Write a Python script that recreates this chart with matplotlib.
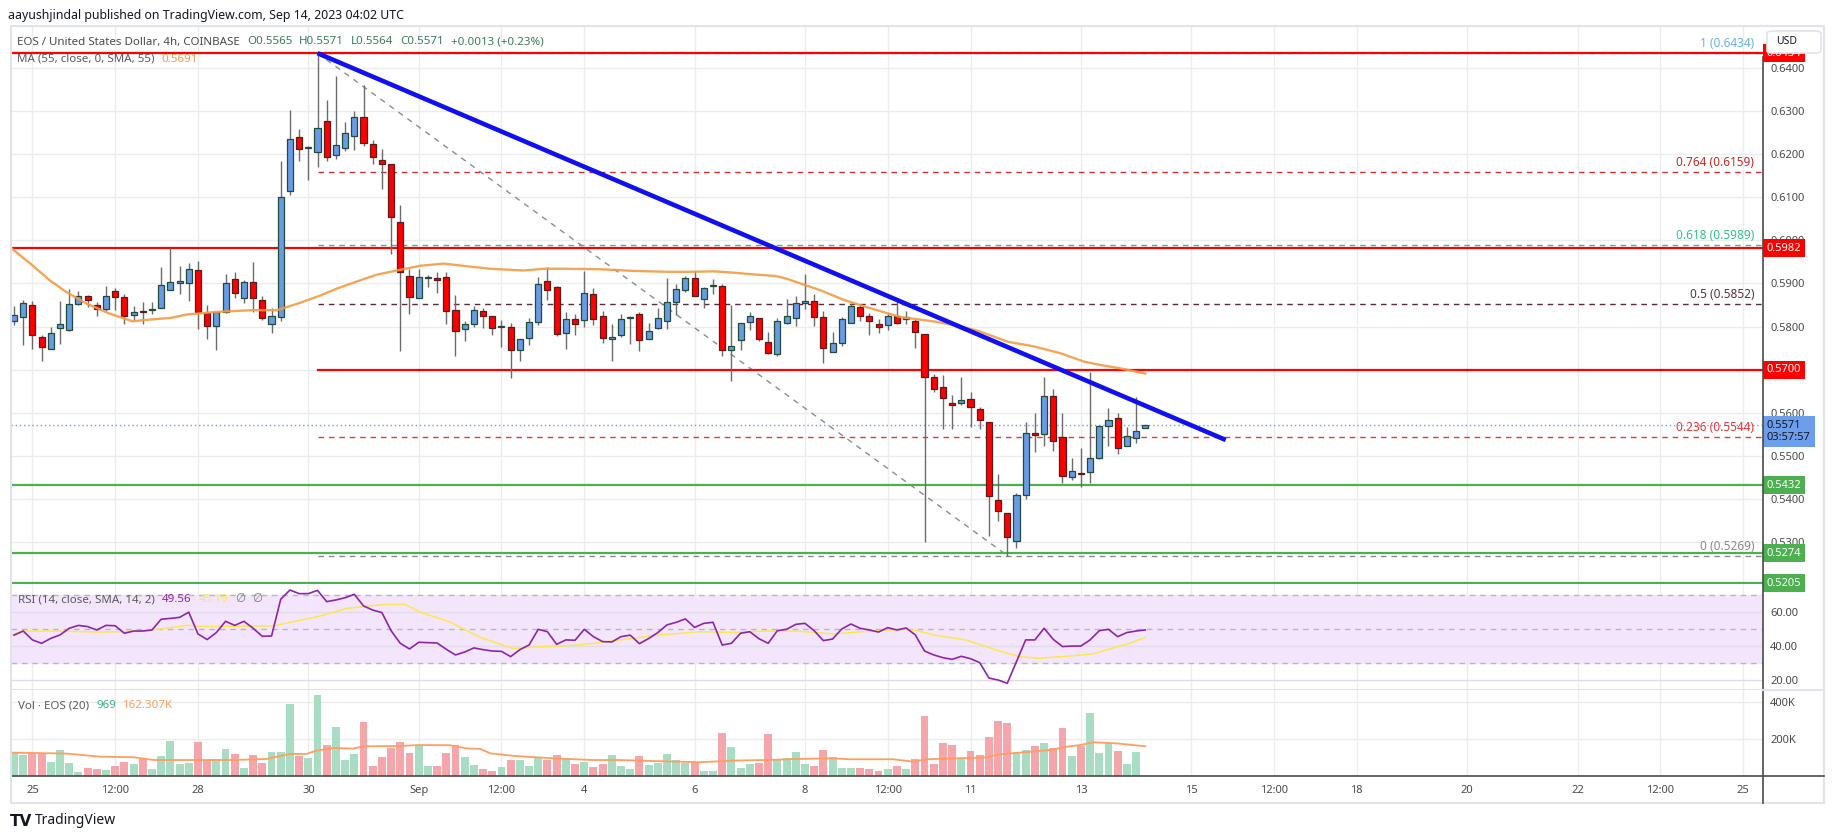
import numpy as np
import pandas as pd
import matplotlib
matplotlib.use("Agg")
import matplotlib.pyplot as plt
import matplotlib.transforms as mtransforms
from matplotlib.patches import Rectangle, FancyBboxPatch
from matplotlib.lines import Line2D

plt.rcParams['font.family'] = ['Noto Sans', 'DejaVu Sans']

W, H = 1835, 839

# ---- data (EOS/USD 4h, Coinbase) ----
t0 = pd.Timestamp("2023-08-24 16:00")
bar = pd.Timedelta(hours=4)

opens = [0.5813, 0.5822, 0.5850, 0.5776, 0.5748, 0.5797, 0.5792, 0.5852, 0.5870, 0.5850,
         0.5841, 0.5883, 0.5869, 0.5827, 0.5835, 0.5838, 0.5843, 0.5885, 0.5902, 0.5901,
         0.5931, 0.5832, 0.5801, 0.5834, 0.5910, 0.5866, 0.5903, 0.5862, 0.5806, 0.5822,
         0.6114, 0.6240, 0.6214, 0.6205, 0.6277, 0.6197, 0.6214, 0.6242, 0.6286, 0.6223,
         0.6186, 0.6177, 0.6042, 0.5917, 0.5866, 0.5912, 0.5913, 0.5915, 0.5839, 0.5794,
         0.5806, 0.5836, 0.5825, 0.5798, 0.5799, 0.5746, 0.5774, 0.5810, 0.5906, 0.5892,
         0.5785, 0.5818, 0.5815, 0.5876, 0.5825, 0.5771, 0.5781, 0.5820, 0.5829, 0.5771,
         0.5797, 0.5813, 0.5857, 0.5885, 0.5913, 0.5864, 0.5893, 0.5894, 0.5745, 0.5769,
         0.5811, 0.5820, 0.5764, 0.5736, 0.5808, 0.5820, 0.5855, 0.5859, 0.5823, 0.5742,
         0.5761, 0.5809, 0.5845, 0.5825, 0.5806, 0.5803, 0.5825, 0.5817, 0.5812, 0.5782,
         0.5683, 0.5659, 0.5622, 0.5622, 0.5631, 0.5608, 0.5578, 0.5397, 0.5367, 0.5302,
         0.5409, 0.5553, 0.5550, 0.5638, 0.5543, 0.5451, 0.5459, 0.5462, 0.5495, 0.5569,
         0.5587, 0.5522, 0.5541, 0.5565]
highs = [0.5848, 0.5862, 0.5860, 0.5781, 0.5800, 0.5860, 0.5886, 0.5883, 0.5874, 0.5857,
         0.5895, 0.5889, 0.5876, 0.5848, 0.5858, 0.5858, 0.5937, 0.5982, 0.5940, 0.5947,
         0.5953, 0.5849, 0.5834, 0.5923, 0.5926, 0.5909, 0.5949, 0.5872, 0.5844, 0.6183,
         0.6302, 0.6257, 0.6219, 0.6434, 0.6326, 0.6381, 0.6274, 0.6299, 0.6361, 0.6232,
         0.6212, 0.6177, 0.6081, 0.5934, 0.5934, 0.5919, 0.5927, 0.5927, 0.5874, 0.5813,
         0.5848, 0.5844, 0.5825, 0.5816, 0.5808, 0.5771, 0.5821, 0.5915, 0.5939, 0.5894,
         0.5834, 0.5828, 0.5930, 0.5889, 0.5837, 0.5806, 0.5828, 0.5824, 0.5834, 0.5808,
         0.5842, 0.5913, 0.5899, 0.5917, 0.5929, 0.5892, 0.5911, 0.5899, 0.5850, 0.5808,
         0.5834, 0.5820, 0.5787, 0.5820, 0.5865, 0.5871, 0.5923, 0.5876, 0.5835, 0.5787,
         0.5823, 0.5854, 0.5853, 0.5831, 0.5818, 0.5831, 0.5860, 0.5835, 0.5817, 0.5782,
         0.5690, 0.5688, 0.5641, 0.5683, 0.5648, 0.5613, 0.5578, 0.5458, 0.5367, 0.5415,
         0.5578, 0.5599, 0.5683, 0.5655, 0.5599, 0.5495, 0.5519, 0.5694, 0.5571, 0.5611,
         0.5599, 0.5568, 0.5636, 0.5571]
lows = [0.5803, 0.5757, 0.5747, 0.5719, 0.5748, 0.5759, 0.5789, 0.5849, 0.5845, 0.5824,
        0.5837, 0.5839, 0.5805, 0.5814, 0.5805, 0.5828, 0.5843, 0.5885, 0.5875, 0.5859,
        0.5794, 0.5770, 0.5745, 0.5831, 0.5866, 0.5854, 0.5834, 0.5815, 0.5784, 0.5813,
        0.6104, 0.6183, 0.6139, 0.6170, 0.6185, 0.6188, 0.6206, 0.6209, 0.6218, 0.6178,
        0.6118, 0.5968, 0.5743, 0.5828, 0.5866, 0.5892, 0.5878, 0.5807, 0.5731, 0.5766,
        0.5798, 0.5797, 0.5780, 0.5752, 0.5680, 0.5719, 0.5757, 0.5803, 0.5861, 0.5778,
        0.5747, 0.5780, 0.5798, 0.5803, 0.5761, 0.5719, 0.5776, 0.5759, 0.5743, 0.5771,
        0.5794, 0.5794, 0.5827, 0.5880, 0.5871, 0.5843, 0.5876, 0.5731, 0.5673, 0.5745,
        0.5791, 0.5766, 0.5736, 0.5731, 0.5805, 0.5801, 0.5841, 0.5801, 0.5715, 0.5742,
        0.5754, 0.5808, 0.5812, 0.5781, 0.5786, 0.5791, 0.5806, 0.5806, 0.5750, 0.5301,
        0.5649, 0.5562, 0.5562, 0.5618, 0.5568, 0.5563, 0.5315, 0.5348, 0.5269, 0.5286,
        0.5400, 0.5508, 0.5522, 0.5512, 0.5437, 0.5444, 0.5429, 0.5437, 0.5493, 0.5522,
        0.5505, 0.5522, 0.5529, 0.5564]
closes = [0.5826, 0.5855, 0.5781, 0.5753, 0.5785, 0.5806, 0.5852, 0.5871, 0.5862, 0.5841,
          0.5871, 0.5869, 0.5825, 0.5834, 0.5834, 0.5841, 0.5896, 0.5903, 0.5903, 0.5934,
          0.5834, 0.5801, 0.5834, 0.5901, 0.5878, 0.5903, 0.5866, 0.5820, 0.5825, 0.6100,
          0.6236, 0.6212, 0.6216, 0.6260, 0.6193, 0.6221, 0.6249, 0.6286, 0.6226, 0.6193,
          0.6176, 0.6053, 0.5927, 0.5868, 0.5915, 0.5914, 0.5907, 0.5836, 0.5789, 0.5806,
          0.5839, 0.5825, 0.5797, 0.5799, 0.5746, 0.5771, 0.5811, 0.5899, 0.5885, 0.5782,
          0.5818, 0.5806, 0.5878, 0.5818, 0.5774, 0.5776, 0.5818, 0.5822, 0.5769, 0.5790,
          0.5820, 0.5857, 0.5887, 0.5913, 0.5871, 0.5889, 0.5895, 0.5745, 0.5755, 0.5808,
          0.5825, 0.5771, 0.5738, 0.5813, 0.5825, 0.5855, 0.5859, 0.5822, 0.5750, 0.5761,
          0.5817, 0.5848, 0.5825, 0.5812, 0.5798, 0.5825, 0.5809, 0.5822, 0.5787, 0.5683,
          0.5655, 0.5634, 0.5618, 0.5629, 0.5613, 0.5583, 0.5406, 0.5372, 0.5313, 0.5409,
          0.5553, 0.5548, 0.5638, 0.5534, 0.5453, 0.5465, 0.5458, 0.5495, 0.5569, 0.5583,
          0.5518, 0.5546, 0.5558, 0.5571]
volumes_k = [131, 115, 126, 126, 79, 142, 74, 23, 45, 40,
             34, 56, 77, 67, 99, 40, 110, 191, 67, 72,
             186, 88, 94, 148, 121, 45, 115, 74, 131, 131,
             391, 110, 99, 440, 169, 267, 88, 121, 294, 56,
             105, 153, 186, 126, 169, 57, 57, 126, 169, 104,
             61, 40, 29, 50, 88, 88, 57, 104, 88, 115,
             95, 66, 77, 50, 66, 115, 57, 40, 110, 60,
             70, 120, 90, 70, 80, 29, 29, 234, 159, 45,
             67, 72, 229, 94, 99, 132, 67, 56, 142, 105,
             45, 45, 45, 40, 29, 40, 56, 40, 94, 326,
             67, 180, 169, 94, 137, 115, 213, 299, 288, 132,
             142, 164, 180, 153, 261, 110, 164, 342, 126, 180,
             137, 67, 132, 0.969]
rsi = [46.5, 48.9, 43.7, 41.7, 44.6, 46.6, 50.5, 52.2, 51.5, 49.5,
       52.2, 52.0, 47.6, 48.9, 48.9, 49.5, 55.8, 56.3, 56.9, 59.9,
       47.2, 43.9, 48.0, 54.6, 52.2, 54.6, 50.5, 45.8, 46.0, 67.5,
       72.9, 70.8, 70.8, 72.7, 66.1, 67.1, 68.4, 70.4, 63.6, 61.2,
       59.7, 49.1, 41.7, 38.4, 42.3, 42.1, 41.9, 38.2, 34.9, 36.6,
       39.0, 38.0, 37.2, 37.0, 33.9, 38.0, 40.7, 49.9, 48.5, 41.1,
       43.7, 43.5, 49.9, 45.6, 42.7, 42.5, 45.6, 46.5, 41.5, 44.5,
       48.0, 52.5, 54.0, 56.0, 51.0, 53.4, 54.0, 40.7, 41.7, 47.6,
       48.5, 44.4, 41.7, 49.1, 49.9, 52.8, 53.4, 49.1, 43.3, 44.2,
       50.1, 53.0, 50.5, 49.5, 48.3, 50.9, 49.5, 50.7, 46.6, 37.2,
       34.9, 33.3, 32.3, 34.1, 32.7, 30.4, 21.4, 20.2, 18.3, 31.0,
       43.7, 43.7, 50.5, 44.0, 39.8, 40.1, 40.1, 43.7, 49.1, 49.9,
       45.6, 48.0, 48.9, 49.56]

# MA(55) (bar position, price)
ma_x = [-0.36, 2.0, 3.9, 5.7, 7.9, 10.4, 12.9, 14.1, 17.0, 18.8, 22.0, 26.0, 28.6, 31.1,
        33.3, 35.1, 37.6, 39.4, 41.6, 44.2, 46.7, 49.2, 51.8, 55.4, 57.6, 60.1, 63.7, 67.4,
        71.0, 73.5, 76.1, 78.2, 80.4, 82.9, 84.0, 85.5, 87.7, 90.2, 92.7, 96.4, 100.0, 102.5,
        104.7, 106.5, 108.0, 110.9, 113.8, 116.3, 118.1, 120.3, 123.0]
ma_y = [0.5983, 0.5942, 0.5907, 0.5880, 0.5853, 0.5830, 0.5812, 0.5815, 0.5820, 0.5828,
        0.5834, 0.5838, 0.5838, 0.5855, 0.5872, 0.5888, 0.5907, 0.5920, 0.5930, 0.5941,
        0.5946, 0.5940, 0.5934, 0.5930, 0.5934, 0.5934, 0.5933, 0.5929, 0.5927, 0.5927,
        0.5928, 0.5925, 0.5921, 0.5917, 0.5911, 0.5900, 0.5884, 0.5862, 0.5845, 0.5822,
        0.5812, 0.5802, 0.5791, 0.5777, 0.5765, 0.5754, 0.5738, 0.5719, 0.5711, 0.5703,
        0.5691]
rsi_ma_x = [-0.36, 1, 4, 9.4, 13, 15.2, 18.8, 21, 28, 28.6, 33, 36.2, 40.3, 42.5, 44.2,
            47.4, 50.7, 53.5, 54.4, 56.5, 60.8, 63, 65.9, 70, 74.6, 78.2, 81.8, 85.5, 89.1,
            92.7, 96.4, 98.2, 100.0, 103.5, 106.8, 109.3, 111.5, 115.2, 117.3, 119.4,
            121.3, 123]
rsi_ma_y = [46.6, 48.9, 48.9, 48.3, 48.7, 49.7, 52.2, 51.5, 51.9, 52.4, 57.3, 62.2, 64.5,
            64.5, 59.9, 54.2, 45.2, 40.0, 38.5, 39.5, 40.5, 41.7, 43.7, 46.5, 48.5, 48.1,
            48.9, 48.7, 47.2, 48.7, 49.9, 49.1, 46.6, 43.7, 37.8, 33.9, 32.9, 34.5, 35.5,
            38.8, 41.7, 45.19]
vol_ma_x = [-0.36, 5.7, 9.4, 13, 15.2, 18.8, 23.9, 27.5, 28.6, 30, 31.8, 32.9, 34.7, 36.9,
            38, 42, 44, 47.4, 49.2, 50.7, 51.8, 54.4, 58.7, 62.9, 65.7, 70, 74.6, 78.2,
            81.8, 85.5, 89.1, 90.9, 95.6, 97.8, 99.2, 103.5, 105.4, 107.2, 109.4, 112.6,
            114.5, 115.9, 117.4, 119.9, 123]
vol_ma_k = [128, 123, 106, 103, 88, 88, 88, 94, 106, 121, 121, 139, 153, 150, 162, 164,
            169, 168, 151, 148, 124, 110, 97, 88, 88, 82, 76, 85, 88, 94, 97, 92, 92, 79,
            92, 99, 101, 119, 128, 142, 160, 169, 184, 178, 162.307]

fib_ratios = [1, 0.764, 0.618, 0.5, 0.236, 0]
fib_prices = [0.6434, 0.6159, 0.5989, 0.5852, 0.5544, 0.5269]
swing_high = ("2023-08-30 04:00", 0.6434)
swing_low = ("2023-09-11 16:00", 0.5269)
trend_end = ("2023-09-15 15:00", 0.5537)
resist_full = [0.6434, 0.5982]
resist_from_high = [0.5700]
supports = [0.5432, 0.5274, 0.5205]
tag_red = [0.6434, 0.5982, 0.5700]
last_price = 0.5571
countdown = "03:57:57"

xtick_times = ["2023-08-25", "2023-08-26 12:00", "2023-08-28", "2023-08-30", "2023-09-01",
               "2023-09-02 12:00", "2023-09-04", "2023-09-06", "2023-09-08", "2023-09-09 12:00",
               "2023-09-11", "2023-09-13", "2023-09-15", "2023-09-16 12:00", "2023-09-18",
               "2023-09-20", "2023-09-22", "2023-09-23 12:00", "2023-09-25"]
xtick_labels = ["25", "12:00", "28", "30", "Sep", "12:00", "4", "6", "8", "12:00", "11", "13",
                "15", "12:00", "18", "20", "22", "12:00", "25"]


def pos(ts):
    return (pd.Timestamp(ts) - t0) / bar


# ---- figure ----
fig = plt.figure(figsize=(W / 100, H / 100), dpi=100)
L, R = 10.7, 1763.3
def box(top, bot):
    return [L / W, 1 - bot / H, (R - L) / W, (bot - top) / H]

ax = fig.add_axes(box(26, 584))
ax_rsi = fig.add_axes(box(584, 690.3), sharex=ax)
ax_vol = fig.add_axes(box(690.3, 776.3), sharex=ax)

GRID = '#ececec'
TXT = '#4a4a4a'
xs = np.arange(len(opens))
o, h, l, c = map(np.array, (opens, highs, lows, closes))
up = c >= o
xt = [pos(t) for t in xtick_times]

for a in (ax, ax_rsi, ax_vol):
    a.set_facecolor('white')
    a.yaxis.tick_right()
    a.tick_params(axis='y', length=0, pad=5, labelsize=8, labelcolor=TXT)
    a.tick_params(axis='x', length=0)
    for s in ('left', 'top', 'right'):
        a.spines[s].set_visible(False)
    a.spines['bottom'].set_color('#e0e3eb')
    a.spines['bottom'].set_linewidth(1.5)
    a.set_xticks(xt)
    for x in xt:
        a.axvline(x, color=GRID, lw=1, zorder=0)
ax.tick_params(axis='x', labelbottom=False)
ax_rsi.tick_params(axis='x', labelbottom=False)
ax_vol.set_xticklabels(xtick_labels)
ax_vol.tick_params(axis='x', pad=6, labelsize=8, labelcolor=TXT)
ax_vol.spines['bottom'].set_color('#4a4a4a')
ax_vol.spines['bottom'].set_linewidth(1.2)
ax.set_xlim(-0.36, 190.2)

# main pane
ax.set_ylim(0.5203, 0.6497)
pt = np.round(np.arange(0.53, 0.6401, 0.01), 2)
ax.set_yticks(pt)
ax.set_yticklabels([f"{v:.4f}" for v in pt])
for v in pt:
    ax.axhline(v, color=GRID, lw=1, zorder=0)

xh, xl = pos(swing_high[0]), pos(swing_low[0])
xend = 190.2
fib_cols = ['#64b5f6', '#d32f2f', '#2bc48a', '#5d2a3a', '#e53935', '#8a8a8a']
lbl_cols = ['#6ab0e0', '#c62828', '#34c08a', '#5d3040', '#e53935', '#8a8a8a']
for r, p, fc, lc in zip(fib_ratios, fib_prices, fib_cols, lbl_cols):
    ax.plot([xh, xend], [p, p], color=fc, lw=1, dashes=(4, 3.5), zorder=2)
    ax.annotate(f"{r:g} ({p:.4f})", (189.2, p), xytext=(0, 2), textcoords='offset points',
                ha='right', va='bottom', color=lc, fontsize=8.5, zorder=6)

ax.plot([xh, xl], [swing_high[1], swing_low[1]], color='#8c8c8c', lw=1, dashes=(4, 4), zorder=2)

for p in resist_full:
    ax.axhline(p, color='#ff0000', lw=1.6, zorder=3)
for p in resist_from_high:
    ax.plot([xh, xend], [p, p], color='#ff0000', lw=1.6, zorder=3)
for p in supports:
    ax.axhline(p, color='#4caf50', lw=1.6, zorder=3)

ax.axhline(last_price, color='#6d9eeb', lw=1, ls=(0, (1, 2)), zorder=2)

# candles
ax.vlines(xs, l, h, color='#6b6b6b', lw=1, zorder=4)
body_b = np.minimum(o, c)
body_h = np.maximum(np.abs(c - o), 0.00025)
ax.bar(xs[up], body_h[up], bottom=body_b[up], width=0.66, color='#6a9ae6',
       edgecolor='#1f4d35', linewidth=0.9, zorder=5)
ax.bar(xs[~up], body_h[~up], bottom=body_b[~up], width=0.66, color='#ff0000',
       edgecolor='#5c1a1a', linewidth=0.9, zorder=5)

ax.plot(ma_x, ma_y, color='#f39c45', lw=1.7, alpha=0.9, zorder=6)
ax.plot([xh, pos(trend_end[0])], [swing_high[1], trend_end[1]], color='#1010f0', lw=3.3,
        solid_capstyle='butt', zorder=7)

# price tags on the scale
tagtr = mtransforms.blended_transform_factory(ax.transAxes, ax.transData) + \
    mtransforms.ScaledTranslation(3.5 / 100, 0, fig.dpi_scale_trans)
for p in tag_red:
    ax.text(1, p, f"{p:.4f}", transform=tagtr, ha='left', va='center', color='white',
            fontsize=8, fontweight='bold', clip_on=False, zorder=10,
            bbox=dict(boxstyle='square,pad=0.32', fc='#ff0000', ec='none'))
for p in supports:
    ax.text(1, p, f"{p:.4f}", transform=tagtr, ha='left', va='center', color='white',
            fontsize=8, fontweight='bold', clip_on=False, zorder=10,
            bbox=dict(boxstyle='square,pad=0.32', fc='#4caf50', ec='none'))
lasttr = tagtr + mtransforms.ScaledTranslation(0, -6 / 100, fig.dpi_scale_trans)
ax.text(1, last_price, f"{last_price:.4f}\n{countdown}", transform=lasttr, ha='left',
        va='center', color='#131722', fontsize=8, linespacing=1.15, clip_on=False, zorder=10,
        bbox=dict(boxstyle='square,pad=0.35', fc='#6d9eeb', ec='none'))

# RSI pane
ax_rsi.set_ylim(14.19, 76.44)
ax_rsi.axhspan(30, 70, color='#f3e6fc', zorder=0)
for v in (20, 40, 60):
    ax_rsi.axhline(v, color='#e2dbea', lw=1, zorder=0.5)
for v in (30, 50, 70):
    ax_rsi.axhline(v, color='#b9b5c3', lw=1, dashes=(4, 3.5), zorder=1)
ax_rsi.set_yticks([20, 40, 60])
ax_rsi.set_yticklabels(["20.00", "40.00", "60.00"])
ax_rsi.plot(rsi_ma_x, rsi_ma_y, color='#fde74c', lw=1.1, zorder=3)
ax_rsi.plot(xs, rsi, color='#8e24aa', lw=1.2, zorder=4)

# Volume pane
ax_vol.set_ylim(0, 464.9)
for v in (200, 400):
    ax_vol.axhline(v, color=GRID, lw=1, zorder=0)
ax_vol.set_yticks([200, 400])
ax_vol.set_yticklabels(["200K", "400K"])
vk = np.array(volumes_k)
ax_vol.bar(xs[up], vk[up], width=0.86, color='#a8dcc3', zorder=2)
ax_vol.bar(xs[~up], vk[~up], width=0.86, color='#f5a6ab', zorder=2)
ax_vol.plot(vol_ma_x, vol_ma_k, color='#ff9e5e', lw=1.3, zorder=3)

# frame and scale lines
fig.patches.append(Rectangle((L / W, 1 - 803 / H), (1824 - L) / W, (803 - 26) / H,
                             transform=fig.transFigure, fill=False, ec='#e0e3eb', lw=1.5,
                             zorder=0.5))
fig.lines.append(Line2D([R / W, R / W], [1 - 57 / H, 1 - 803 / H], transform=fig.transFigure,
                        color='#4a4a4a', lw=1.2))
fig.lines.append(Line2D([R / W, 1824 / W], [1 - 776.3 / H, 1 - 776.3 / H],
                        transform=fig.transFigure, color='#4a4a4a', lw=1.2))
fig.lines.append(Line2D([R / W, 1824 / W], [1 - 690.3 / H, 1 - 690.3 / H],
                        transform=fig.transFigure, color='#e0e3eb', lw=1.5))
fig.patches.append(FancyBboxPatch((1767 / W, 1 - 53 / H), 54 / W, 22 / H,
                                  boxstyle='round,pad=0,rounding_size=0.003',
                                  transform=fig.transFigure, fc='white', ec='#e0e3eb', lw=1.2,
                                  zorder=5))
fig.text(1776 / W, 1 - 42 / H, "USD", fontsize=7.5, color='#131722', va='center', zorder=6)

# texts
renderer = fig.canvas.get_renderer()
def chain(x_px, y_px, parts, size=8.3, gap=7):
    for txt, col in parts:
        t = fig.text(x_px / W, 1 - y_px / H, txt, color=col, fontsize=size, va='center',
                     ha='left', zorder=8)
        x_px += t.get_window_extent(renderer=renderer).width + gap

fig.text(8 / W, 1 - 15 / H, "aayushjindal published on TradingView.com, Sep 14, 2023 04:02 UTC",
         fontsize=8.85, color='#131722', va='center')
g = '#3d7a5c'
chg = closes[-1] - closes[-2]
chain(17, 42, [("EOS / United States Dollar, 4h, COINBASE", '#4a4a4a'),
               (f"O{opens[-1]:.4f}", g), (f"H{highs[-1]:.4f}", g), (f"L{lows[-1]:.4f}", g),
               (f"C{closes[-1]:.4f}", g), (f"+{chg:.4f} (+{chg / closes[-2] * 100:.2f}%)", g)])
chain(17, 59, [("MA (55, close, 0, SMA, 55)", '#5a5a5a'), (f"{ma_y[-1]:.4f}", '#f39c45')])
chain(18, 600, [("RSI (14, close, SMA, 14, 2)", '#5a5a5a'), (f"{rsi[-1]:.2f}", '#8e24aa'),
                (f"{rsi_ma_y[-1]:.2f}", '#fde74c'), ("∅", '#787b86'), ("∅", '#787b86')])
chain(18, 706, [("Vol · EOS (20)", '#5a5a5a'), (f"{volumes_k[-1] * 1000:.0f}", '#3bb08f'),
                (f"{vol_ma_k[-1]:.3f}K", '#ff9e5e')])

fig.text(10 / W, 1 - 821 / H, "TV", fontsize=11, fontweight='heavy', color='#131722',
         va='center', family='DejaVu Sans')
fig.text(35 / W, 1 - 821 / H, "TradingView", fontsize=10, color='#131722', va='center')

fig.savefig("out.png", dpi=100, facecolor='white')
